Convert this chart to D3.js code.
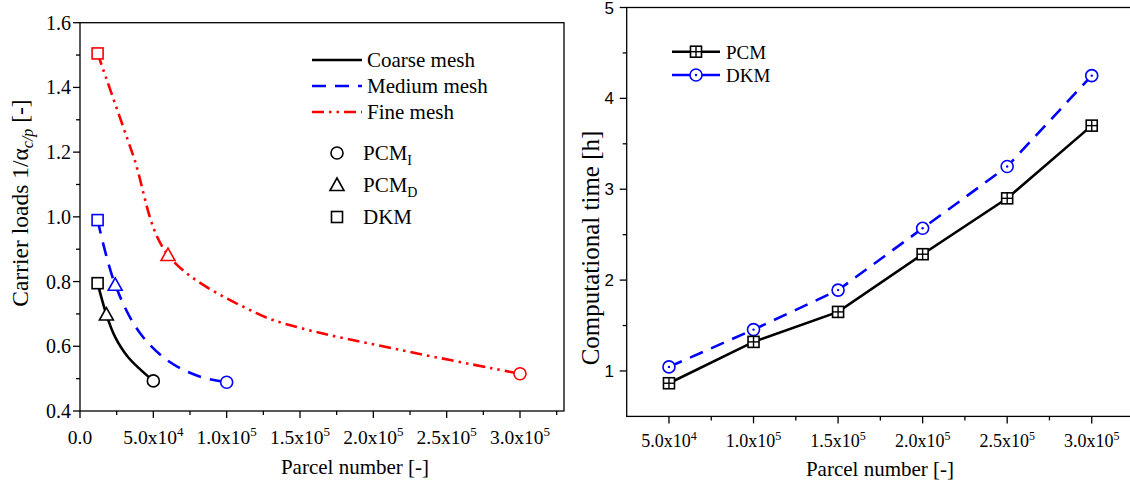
<!DOCTYPE html>
<html><head><meta charset="utf-8">
<script src="https://cdn.jsdelivr.net/npm/d3@7"></script>
<style>body{margin:0;background:#fff}svg{display:block}</style>
</head><body>
<svg id="c" width="1130" height="484"></svg>
<script>
// ---------- data (left panel) ----------
const meshNames = ["Coarse mesh", "Medium mesh", "Fine mesh"];
const meshColors = ["#000000", "#0000ff", "#ff0000"];
const methodNames = ["PCM_I", "PCM_D", "DKM"];
// marker points: DKM (square), PCM_D (triangle), PCM_I (circle)
const coarseX = [1.2e4, 1.8e4, 5.0e4];
const coarseY = [0.795, 0.698, 0.493];
const mediumX = [1.2e4, 2.4e4, 1.0e5];
const mediumY = [0.990, 0.790, 0.489];
const fineX = [1.2e4, 6.0e4, 3.0e5];
const fineY = [1.505, 0.882, 0.515];
// fitted curve points
const coarseCurveX = [1.2e4, 1.8e4, 2.39e4, 3.27e4, 5.0e4];
const coarseCurveY = [0.795, 0.698, 0.629, 0.567, 0.493];
const mediumCurveX = [1.2e4, 2.4e4, 4.1e4, 6.1e4, 8.2e4, 1.0e5];
const mediumCurveY = [0.990, 0.790, 0.640, 0.552, 0.506, 0.489];
const fineCurveX = [1.2e4, 3.6e4, 6.0e4, 1.2e5, 1.5e5, 2.18e5, 3.0e5];
const fineCurveY = [1.505, 1.193, 0.882, 0.703, 0.657, 0.589, 0.515];
const leftXTicks = [0, 5e4, 1e5, 1.5e5, 2e5, 2.5e5, 3e5];
const leftXTickLabels = [["0.0",""],["5.0x10","4"],["1.0x10","5"],["1.5x10","5"],["2.0x10","5"],["2.5x10","5"],["3.0x10","5"]];
const leftYTicks = [0.4, 0.6, 0.8, 1.0, 1.2, 1.4, 1.6];

// ---------- data (right panel) ----------
const parcels = [5e4, 1e5, 1.5e5, 2e5, 2.5e5, 3e5];
const pcmTime = [0.865, 1.32, 1.65, 2.285, 2.90, 3.70];
const dkmTime = [1.045, 1.455, 1.89, 2.57, 3.25, 4.25];
const rightXTickLabels = [["5.0x10","4"],["1.0x10","5"],["1.5x10","5"],["2.0x10","5"],["2.5x10","5"],["3.0x10","5"]];
const rightYTicks = [1, 2, 3, 4, 5];

const svg = d3.select("#c");
const serif = "'Liberation Serif','Times New Roman',serif";
const sans = "'Liberation Sans',Arial,sans-serif";

// ================= LEFT PANEL =================
const xL = d3.scaleLinear().domain([0, 3.3e5]).range([80, 564]);
const yL = d3.scaleLinear().domain([0.4, 1.6]).range([411, 22.7]);
const gL = svg.append("g");

gL.append("rect").attr("x", xL(0)).attr("y", yL(1.6)).attr("width", xL(3.3e5)-xL(0)).attr("height", yL(0.4)-yL(1.6))
  .attr("fill","none").attr("stroke","#000").attr("stroke-width",1.3);

const xLminor = d3.range(2.5e4, 3.3e5, 5e4);
gL.selectAll(".xmaj").data(leftXTicks).join("line").attr("x1",d=>xL(d)).attr("x2",d=>xL(d)).attr("y1",yL(0.4)).attr("y2",yL(0.4)+7).attr("stroke","#000").attr("stroke-width",1.3);
gL.selectAll(".xmin").data(xLminor).join("line").attr("x1",d=>xL(d)).attr("x2",d=>xL(d)).attr("y1",yL(0.4)).attr("y2",yL(0.4)+4).attr("stroke","#000").attr("stroke-width",1.3);
leftXTicks.forEach((v,i)=>{
  const t = gL.append("text").attr("x", xL(v)).attr("y", 444).attr("text-anchor","middle")
    .attr("font-family", serif).attr("font-size", 19.5).attr("fill","#000");
  t.append("tspan").text(leftXTickLabels[i][0]);
  if (leftXTickLabels[i][1]) t.append("tspan").attr("dy",-8).attr("font-size",13).text(leftXTickLabels[i][1]);
});
const yLminor = d3.range(0.5, 1.6, 0.2);
gL.selectAll(".ymaj").data(leftYTicks).join("line").attr("x1",xL(0)-7).attr("x2",xL(0)).attr("y1",d=>yL(d)).attr("y2",d=>yL(d)).attr("stroke","#000").attr("stroke-width",1.3);
gL.selectAll(".ymin").data(yLminor).join("line").attr("x1",xL(0)-4).attr("x2",xL(0)).attr("y1",d=>yL(d)).attr("y2",d=>yL(d)).attr("stroke","#000").attr("stroke-width",1.3);
gL.selectAll(".ylab").data(leftYTicks).join("text").attr("x", 71).attr("y", d=>yL(d)+7).attr("text-anchor","end")
  .attr("font-family", serif).attr("font-size", 20).text(d=>d.toFixed(1));

gL.append("text").attr("x", 355).attr("y", 474).attr("text-anchor","middle").attr("font-family",serif).attr("font-size",21).text("Parcel number [-]");
const yt = gL.append("text").attr("transform","translate(28,203) rotate(-90)").attr("text-anchor","middle").attr("font-family",serif).attr("font-size",23.5);
yt.append("tspan").text("Carrier loads 1/α");
yt.append("tspan").attr("dy",5).attr("font-size",16).attr("font-style","italic").text("c/p");
yt.append("tspan").attr("dy",-5).text(" [-]");

const lineL = d3.line().x(d=>xL(d[0])).y(d=>yL(d[1])).curve(d3.curveCatmullRom.alpha(0.5));
const dashes = [null, "14,9", "12,5,2.5,5,2.5,5"];
const curves = [[coarseCurveX, coarseCurveY],[mediumCurveX, mediumCurveY],[fineCurveX, fineCurveY]];
curves.forEach((c,i)=>{
  gL.append("path").attr("d", lineL(d3.zip(c[0], c[1]))).attr("fill","none").attr("stroke",meshColors[i])
    .attr("stroke-width",2.6).attr("stroke-dasharray",dashes[i]);
});

function marker(g, kind, x, y, color, sw) {
  if (kind === "square") g.append("rect").attr("x",x-5.5).attr("y",y-5.5).attr("width",11).attr("height",11).attr("fill","#fff").attr("stroke",color).attr("stroke-width",sw);
  else if (kind === "triangle") g.append("path").attr("d",`M${x},${y-7}L${x+7},${y+5.5}L${x-7},${y+5.5}Z`).attr("fill","#fff").attr("stroke",color).attr("stroke-width",sw);
  else g.append("circle").attr("cx",x).attr("cy",y).attr("r",6).attr("fill","#fff").attr("stroke",color).attr("stroke-width",sw);
}
const kinds = ["square","triangle","circle"];
[[coarseX,coarseY],[mediumX,mediumY],[fineX,fineY]].forEach((m,i)=>{
  m[0].forEach((x,j)=>marker(gL, kinds[j], xL(x), yL(m[1][j]), meshColors[i], 1.6));
});

const legY = [60, 86, 112];
meshNames.forEach((n,i)=>{
  gL.append("line").attr("x1",312).attr("x2",362).attr("y1",legY[i]).attr("y2",legY[i]).attr("stroke",meshColors[i]).attr("stroke-width",2.6).attr("stroke-dasharray",dashes[i]);
  gL.append("text").attr("x",367).attr("y",legY[i]+7).attr("font-family",serif).attr("font-size",21).text(n);
});
const legMY = [153, 185, 217];
const legKinds = ["circle","triangle","square"];
methodNames.forEach((n,i)=>{
  marker(gL, legKinds[i], 337, legMY[i], "#000", 1.6);
  const t = gL.append("text").attr("x",363).attr("y",legMY[i]+7).attr("font-family",serif).attr("font-size",21);
  const parts = n.split("_");
  t.append("tspan").text(parts[0]);
  if (parts[1]) t.append("tspan").attr("dy",5).attr("font-size",14).text(parts[1]);
});

// ================= RIGHT PANEL =================
const xR = d3.scaleLinear().domain([2.5e4, 3.25e5]).range([626.7, 1134]);
const yR = d3.scaleLinear().domain([0.5, 5]).range([416.4, 7.5]);
const gR = svg.append("g");
gR.append("rect").attr("x", xR(2.5e4)).attr("y", yR(5)).attr("width", xR(3.25e5)-xR(2.5e4)).attr("height", yR(0.5)-yR(5))
  .attr("fill","none").attr("stroke","#000").attr("stroke-width",1.3);
const xRminor = d3.range(7.5e4, 3.3e5, 5e4);
gR.selectAll(".xmaj").data(parcels).join("line").attr("x1",d=>xR(d)).attr("x2",d=>xR(d)).attr("y1",yR(0.5)).attr("y2",yR(0.5)+7).attr("stroke","#000").attr("stroke-width",1.3);
gR.selectAll(".xmin").data(xRminor).join("line").attr("x1",d=>xR(d)).attr("x2",d=>xR(d)).attr("y1",yR(0.5)).attr("y2",yR(0.5)+4).attr("stroke","#000").attr("stroke-width",1.3);
parcels.forEach((v,i)=>{
  const t = gR.append("text").attr("x", xR(v)).attr("y", 447).attr("text-anchor","middle")
    .attr("font-family", serif).attr("font-size", 18).attr("fill","#000");
  t.append("tspan").text(rightXTickLabels[i][0]);
  t.append("tspan").attr("dy",-7).attr("font-size",12).text(rightXTickLabels[i][1]);
});
const yRminor = d3.range(1.5, 5, 1);
gR.selectAll(".ymaj").data(rightYTicks).join("line").attr("x1",xR(2.5e4)-7).attr("x2",xR(2.5e4)).attr("y1",d=>yR(d)).attr("y2",d=>yR(d)).attr("stroke","#000").attr("stroke-width",1.3);
gR.selectAll(".ymin").data(yRminor).join("line").attr("x1",xR(2.5e4)-4).attr("x2",xR(2.5e4)).attr("y1",d=>yR(d)).attr("y2",d=>yR(d)).attr("stroke","#000").attr("stroke-width",1.3);
gR.selectAll(".ylab").data(rightYTicks).join("text").attr("x", 614).attr("y", d=>yR(d)+6).attr("text-anchor","end")
  .attr("font-family", sans).attr("font-size", 17).text(d=>d);
gR.append("text").attr("x", 880).attr("y", 476).attr("text-anchor","middle").attr("font-family",serif).attr("font-size",21).text("Parcel number [-]");
gR.append("text").attr("transform","translate(599,248) rotate(-90)").attr("text-anchor","middle").attr("font-family",serif).attr("font-size",25).text("Computational time [h]");

const lineR = d3.line().x(d=>xR(d[0])).y(d=>yR(d[1]));
gR.append("path").attr("d", lineR(d3.zip(parcels, dkmTime))).attr("fill","none").attr("stroke","#0000ff").attr("stroke-width",2.6).attr("stroke-dasharray","14,9");
gR.append("path").attr("d", lineR(d3.zip(parcels, pcmTime))).attr("fill","none").attr("stroke","#000").attr("stroke-width",2.6);

function sqCross(g, x, y) {
  g.append("rect").attr("x",x-5.5).attr("y",y-5.5).attr("width",11).attr("height",11).attr("fill","#fff").attr("stroke","#000").attr("stroke-width",1.6);
  g.append("line").attr("x1",x).attr("x2",x).attr("y1",y-5.5).attr("y2",y+5.5).attr("stroke","#000").attr("stroke-width",1.4);
  g.append("line").attr("x1",x-5.5).attr("x2",x+5.5).attr("y1",y).attr("y2",y).attr("stroke","#000").attr("stroke-width",1.4);
}
function circDot(g, x, y) {
  g.append("circle").attr("cx",x).attr("cy",y).attr("r",6).attr("fill","#fff").attr("stroke","#0000ff").attr("stroke-width",1.6);
  g.append("circle").attr("cx",x).attr("cy",y).attr("r",1.2).attr("fill","#0000ff");
}
parcels.forEach((p,i)=>{ circDot(gR, xR(p), yR(dkmTime[i])); });
parcels.forEach((p,i)=>{ sqCross(gR, xR(p), yR(pcmTime[i])); });

const rLeg = [["PCM","#000"],["DKM","#0000ff"]];
[51.7, 75].forEach((ly,i)=>{
  gR.append("line").attr("x1",672).attr("x2",720).attr("y1",ly).attr("y2",ly).attr("stroke",rLeg[i][1]).attr("stroke-width",2.6);
  if (i===0) sqCross(gR, 696, ly); else circDot(gR, 696, ly);
  gR.append("text").attr("x",726).attr("y",ly+7).attr("font-family",serif).attr("font-size",19).text(rLeg[i][0]);
});
</script>
</body></html>
